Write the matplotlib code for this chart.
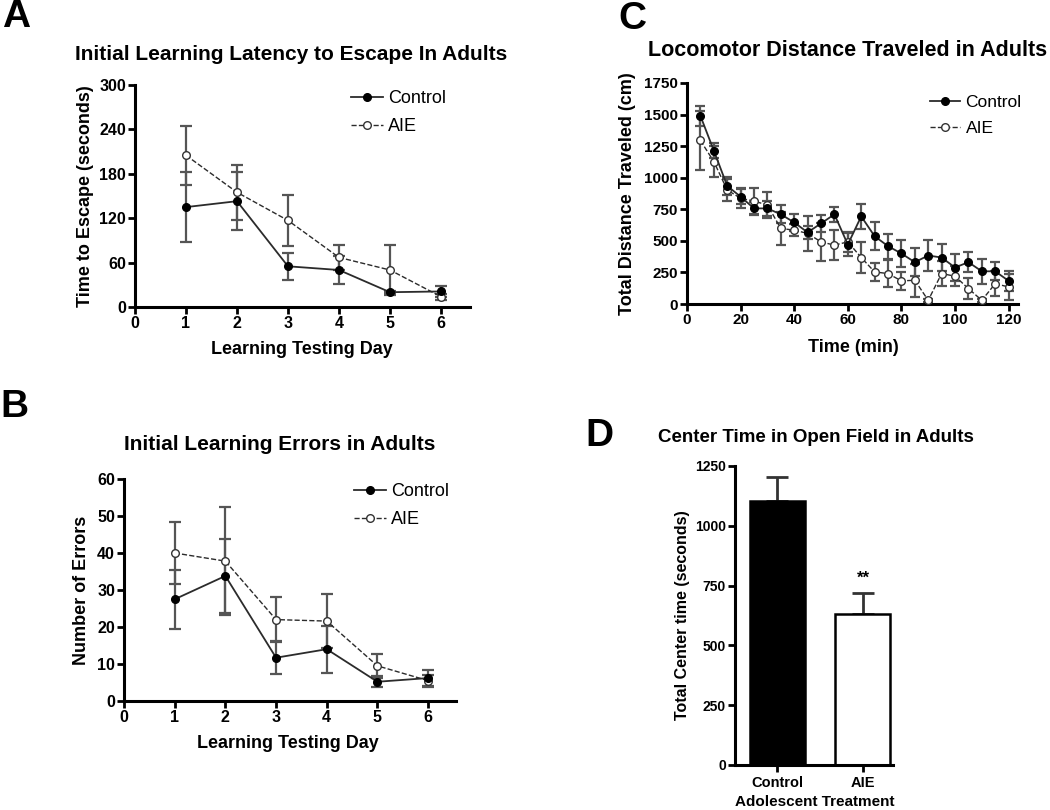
import matplotlib
matplotlib.use("Agg")
import matplotlib.pyplot as plt
from matplotlib.lines import Line2D

plt.rcParams['font.family'] = ['Liberation Sans', 'DejaVu Sans']

# ---- Panel A data ----
days = [1, 2, 3, 4, 5, 6]
latency_ctrl = [135, 143, 55, 50, 20, 21]
latency_ctrl_err = [47, 39, 18, 19, 1, 7]
latency_aie = [205, 155, 117, 67, 50, 14]
latency_aie_err = [40, 37, 35, 17, 34, 4]

# ---- Panel B data ----
errors_ctrl = [27.5, 33.8, 11.7, 14.0, 5.2, 6.2]
errors_ctrl_err = [8.0, 10.0, 4.5, 6.3, 1.5, 2.3]
errors_aie = [40.0, 37.8, 22.0, 21.6, 9.5, 5.5]
errors_aie_err = [8.5, 14.5, 6.0, 7.2, 3.2, 1.5]

# ---- Panel C data ----
time_min = [5, 10, 15, 20, 25, 30, 35, 40, 45, 50, 55, 60,
            65, 70, 75, 80, 85, 90, 95, 100, 105, 110, 115, 120]
dist_ctrl = [1490, 1215, 935, 850, 757, 757, 710, 646, 567, 638, 710, 471,
             694, 537, 458, 400, 331, 384, 368, 289, 331, 259, 259, 183]
dist_ctrl_err = [80, 60, 70, 60, 50, 60, 70, 70, 50, 70, 60, 90,
                 100, 110, 100, 110, 110, 120, 110, 110, 80, 100, 70, 80]
dist_aie = [1295, 1128, 903, 837, 815, 784, 598, 585, 559, 492, 466, 492,
            368, 254, 241, 183, 188, 29, 241, 220, 122, 29, 161, 135]
dist_aie_err = [230, 120, 90, 80, 100, 100, 130, 50, 140, 150, 120, 80,
                120, 70, 110, 70, 130, 10, 100, 80, 80, 10, 100, 100]

# ---- Panel D data ----
groups = ["Control", "AIE"]
center_time = [1105, 630]
center_time_err = [100, 90]

W, H = 1050, 810
fig = plt.figure(figsize=(W / 100, H / 100), dpi=100)


def ax_px(left, top, right, bottom):
    return fig.add_axes([left / W, 1 - bottom / H, (right - left) / W, (bottom - top) / H])


def ftext(px, py, s, **kw):
    kw.setdefault("ha", "center")
    kw.setdefault("va", "center")
    kw.setdefault("fontweight", "bold")
    return fig.text(px / W, 1 - py / H, s, **kw)


def style(ax, fs=11):
    for s in ["top", "right"]:
        ax.spines[s].set_visible(False)
    for s in ["left", "bottom"]:
        ax.spines[s].set_linewidth(2.2)
        ax.spines[s].set_color("black")
    ax.tick_params(width=2.0, length=5, labelsize=fs, pad=1.5)
    for lbl in ax.get_xticklabels() + ax.get_yticklabels():
        lbl.set_fontweight("bold")


LINE_C = "#2b2b2b"
ERR_C = "#555555"


def line_panel(ax, x, yc, ec, ya, ea, ms=5.5, cap=4.5):
    ax.errorbar(x, yc, yerr=ec, fmt="none", ecolor=ERR_C, elinewidth=1.6,
                capsize=cap, capthick=1.6, zorder=2)
    ax.errorbar(x, ya, yerr=ea, fmt="none", ecolor=ERR_C, elinewidth=1.6,
                capsize=cap, capthick=1.6, zorder=2)
    ax.plot(x, yc, "-", color=LINE_C, lw=1.3, marker="o", ms=ms,
            mfc="black", mec="black", zorder=4, clip_on=False)
    ax.plot(x, ya, "--", color=LINE_C, lw=1.0, marker="o", ms=ms,
            mfc="white", mec="#333333", mew=1.0, zorder=3, clip_on=False)


def add_legend(ax, px, py, fs=13):
    h = [Line2D([], [], color=LINE_C, lw=1.3, ls="-", marker="o", ms=5.5,
                mfc="black", mec="black"),
         Line2D([], [], color=LINE_C, lw=1.0, ls="--", marker="o", ms=5.5,
                mfc="white", mec="#333333")]
    ax.legend(h, ["Control", "AIE"], loc="upper left",
              bbox_to_anchor=(px / W, 1 - py / H), bbox_transform=fig.transFigure,
              frameon=False, fontsize=fs, handlelength=1.75, handletextpad=0.3,
              labelspacing=0.6, borderpad=0, borderaxespad=0)


# ---- Panel A ----
axA = ax_px(135, 85, 470, 307)
line_panel(axA, days, latency_ctrl, latency_ctrl_err, latency_aie, latency_aie_err)
axA.set_xlim(0, 6.57)
axA.set_ylim(0, 300)
axA.set_xticks(range(0, 7))
axA.set_yticks(range(0, 301, 60))
style(axA, fs=11.5)
add_legend(axA, 351, 90)
ftext(291, 54, "Initial Learning Latency to Escape In Adults", fontsize=15)
ftext(302, 349, "Learning Testing Day", fontsize=13)
ftext(85, 196, "Time to Escape (seconds)", fontsize=13, rotation=90)

# ---- Panel B ----
axB = ax_px(124, 479, 456, 701)
line_panel(axB, days, errors_ctrl, errors_ctrl_err, errors_aie, errors_aie_err)
axB.set_xlim(0, 6.55)
axB.set_ylim(0, 60)
axB.set_xticks(range(0, 7))
axB.set_yticks(range(0, 61, 10))
style(axB, fs=11.5)
add_legend(axB, 354, 483)
ftext(280, 444, "Initial Learning Errors in Adults", fontsize=15)
ftext(288, 743, "Learning Testing Day", fontsize=13)
ftext(82, 590, "Number of Errors", fontsize=13, rotation=90)

# ---- Panel C ----
axC = ax_px(687, 83, 1018, 304)
line_panel(axC, time_min, dist_ctrl, dist_ctrl_err, dist_aie, dist_aie_err,
           ms=5.5, cap=3.5)
axC.set_xlim(0, 123.5)
axC.set_ylim(0, 1750)
axC.set_xticks(range(0, 121, 20))
axC.set_yticks(range(0, 1751, 250))
style(axC, fs=11)
add_legend(axC, 930, 95, fs=12.5)
ftext(848, 50, "Locomotor Distance Traveled in Adults", fontsize=15.5)
ftext(853, 347, "Time (min)", fontsize=13)
ftext(627, 194, "Total Distance Traveled (cm)", fontsize=13, rotation=90)

# ---- Panel D ----
axD = ax_px(735, 466, 893, 765)
xpos = [0, 1]
axD.bar(xpos, center_time, width=0.64, color=["black", "white"],
        edgecolor="black", linewidth=1.8, zorder=2)
axD.errorbar(xpos, center_time, yerr=[[0, 0], center_time_err], fmt="none",
             ecolor="#333333", elinewidth=2.0, capsize=8, capthick=2.0, zorder=1)
axD.set_xlim(-0.49, 1.35)
axD.set_ylim(0, 1250)
axD.set_xticks(xpos)
axD.set_xticklabels(groups)
axD.set_yticks(range(0, 1251, 250))
style(axD, fs=10)
axD.tick_params(axis="x", labelsize=10.5, pad=3)
axD.text(1, center_time[1] + center_time_err[1] + 30, "**", ha="center",
         va="bottom", fontsize=12, fontweight="bold")
ftext(816, 437, "Center Time in Open Field in Adults", fontsize=13.5)
ftext(815, 802, "Adolescent Treatment", fontsize=11)
ftext(683, 615, "Total Center time (seconds)", fontsize=11.5, rotation=90)

# ---- Panel letters ----
for letter, (px, py) in {"A": (16, 17), "B": (14, 407), "C": (632, 19), "D": (599, 436)}.items():
    ftext(px, py, letter, fontsize=28)

fig.savefig("out.png", dpi=100, facecolor="white")
